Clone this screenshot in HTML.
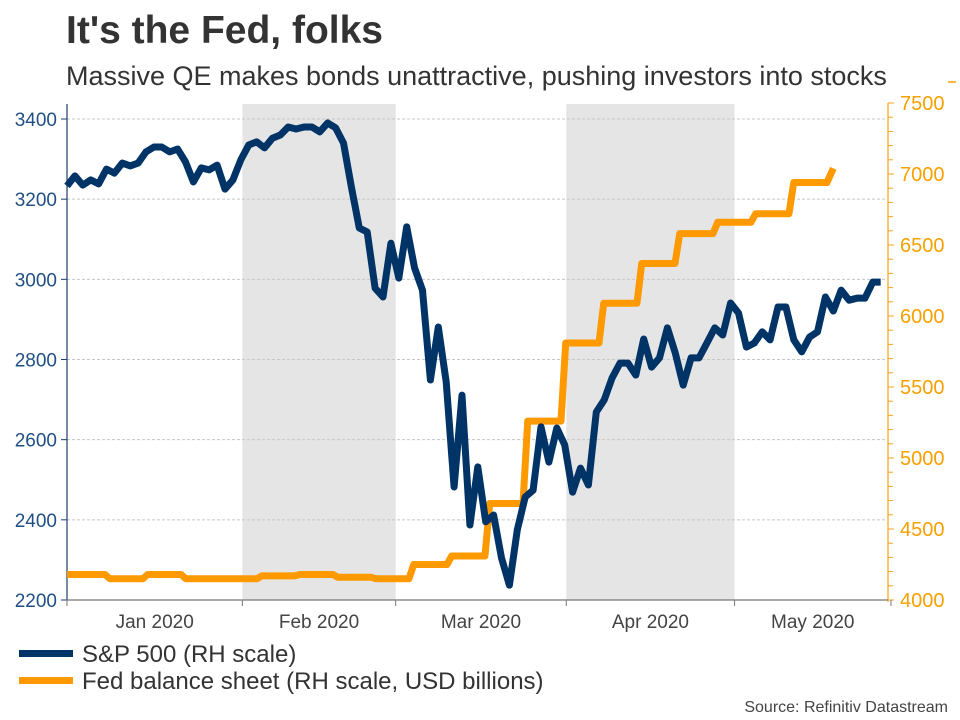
<!DOCTYPE html>
<html><head><meta charset="utf-8">
<style>
body{margin:0;background:#fff;font-family:"Liberation Sans",Arial,sans-serif;}
#wrap{position:relative;width:960px;height:720px;overflow:hidden;}
.t{position:absolute;white-space:nowrap;}
</style></head>
<body>
<div id="wrap">
<div class="t" style="left:66px;top:9px;font-size:39px;font-weight:bold;color:#333;">It's the Fed, folks</div>
<div class="t" style="left:66px;top:61px;font-size:27px;color:#333;">Massive QE makes bonds unattractive, pushing investors into stocks</div>
<svg id="chart" width="960" height="720" style="position:absolute;left:0;top:0"></svg>
<div class="t" style="right:12px;top:699px;font-size:16px;color:#444;">Source: Refinitiv Datastream</div>
</div>
<script>
const spValues=[3233,3258,3235,3248,3238,3275,3265,3290,3283,3290,3318,3330,3330,3318,3325,3293,3243,3278,3273,3285,3225,3248,3298,3335,3343,3328,3352,3360,3380,3375,3380,3380,3368,3390,3378,3340,3230,3128,3118,2978,2956,3090,3003,3131,3028,2973,2749,2881,2744,2482,2711,2387,2532,2395,2412,2305,2237,2375,2457,2474,2632,2544,2629,2587,2469,2529,2487,2669,2699,2754,2791,2791,2761,2851,2781,2804,2879,2816,2736,2804,2804,2841,2879,2861,2941,2916,2831,2841,2869,2849,2931,2931,2849,2819,2856,2869,2956,2921,2973,2948,2953,2953,2993,2993];
const fedWeekly=[4180,4150,4180,4150,4150,4170,4180,4160,4150,4250,4310,4680,5260,5810,6090,6370,6580,6660,6720,6940];
const fedLast=7040;
const leftTicks=[2200,2400,2600,2800,3000,3200,3400];
const rightTicks=[4000,4500,5000,5500,6000,6500,7000,7500];
const monthLabels=["Jan 2020","Feb 2020","Mar 2020","Apr 2020","May 2020"];
const monthStarts=[0,22.2,41.6,63.2,84.5,104.3];
const shaded=[1,3];

const NS="http://www.w3.org/2000/svg";
const svg=document.getElementById('chart');
const X0=67,STEP=7.9,YB=600;
const x=i=>X0+i*STEP;
const yL=v=>YB-(v-2200)*(481/1200);
const yR=v=>YB-(v-4000)*(71/500);
function mk(tag,attrs,parent){const e=document.createElementNS(NS,tag);for(const k in attrs)e.setAttribute(k,attrs[k]);(parent||svg).appendChild(e);return e;}

shaded.forEach(m=>{
  const r=mk('rect',{x:x(monthStarts[m]),y:104,width:x(monthStarts[m+1])-x(monthStarts[m]),height:YB-104,fill:'#e5e5e5'});
  
  
});
leftTicks.forEach(v=>{
  if(v>2200){const g=mk('line',{x1:X0,x2:887,y1:yL(v),y2:yL(v),stroke:'#c8c8c8','stroke-dasharray':'3,2','stroke-width':1});
  
  }
  mk('line',{x1:X0-6,x2:X0,y1:yL(v),y2:yL(v),stroke:'#1f3f6e','stroke-width':1});
  const t=mk('text',{x:X0-10,y:yL(v)+7,'text-anchor':'end','font-size':19,fill:'#1f4f85'});
  t.textContent=v;
  
  
});
const la=mk('line',{x1:X0,x2:X0,y1:104,y2:YB,stroke:'#1f3f6e','stroke-width':1.2});


const RX=888;
const ra=mk('line',{x1:RX,x2:RX,y1:103,y2:YB+2,stroke:'#f7a21b','stroke-width':1.2});


for(let v=4000;v<=7500;v+=100){mk('line',{x1:RX,x2:RX+(v%500===0?6:5),y1:yR(v),y2:yR(v),stroke:'#f7a21b','stroke-width':1});}
rightTicks.forEach(v=>{
  const t=mk('text',{x:RX+12,y:yR(v)+7,'font-size':20,fill:'#f7a000'});
  t.textContent=v;
  
  
});
mk('line',{x1:948,x2:956,y1:82,y2:82,stroke:'#f7a000','stroke-width':1.5});
const xa=mk('line',{x1:X0,x2:RX,y1:YB,y2:YB,stroke:'#777','stroke-width':1.2});


monthStarts.forEach(m=>mk('line',{x1:x(m),x2:x(m),y1:YB,y2:YB+6,stroke:'#777','stroke-width':1}));
monthLabels.forEach((l,i)=>{
  const t=mk('text',{x:(x(monthStarts[i])+x(monthStarts[i+1]))/2,y:YB+28,'text-anchor':'middle','font-size':19,fill:'#444'});
  t.textContent=l;
  
  
});
const W=4.81;let pts=[];
fedWeekly.forEach((v,k)=>{pts.push([x(W*k+(k?0.6:0)),yR(v)]);pts.push([x(W*(k+1)),yR(v)]);});
pts.push([x(W*fedWeekly.length+0.8),yR(fedLast)]);
const fl=mk('polyline',{points:pts.map(p=>p.join(',')).join(' '),fill:'none',stroke:'#ff9900','stroke-width':7,'stroke-linejoin':'round'});


const sl=mk('polyline',{points:spValues.map((v,i)=>x(i)+','+yL(v)).join(' '),fill:'none',stroke:'#003366','stroke-width':7,'stroke-linejoin':'round'});


[["S&P 500 (RH scale)","#003366",654],["Fed balance sheet (RH scale, USD billions)","#ff9900",681]].forEach(([l,c,y])=>{
  const g=mk('g',{});
  
  
  mk('rect',{x:19,y:y-4,width:54,height:7,fill:c},g);
  const t=mk('text',{x:82,y:y+8,'font-size':24,fill:'#333'},g);t.textContent=l;
});
</script>
</body></html>
